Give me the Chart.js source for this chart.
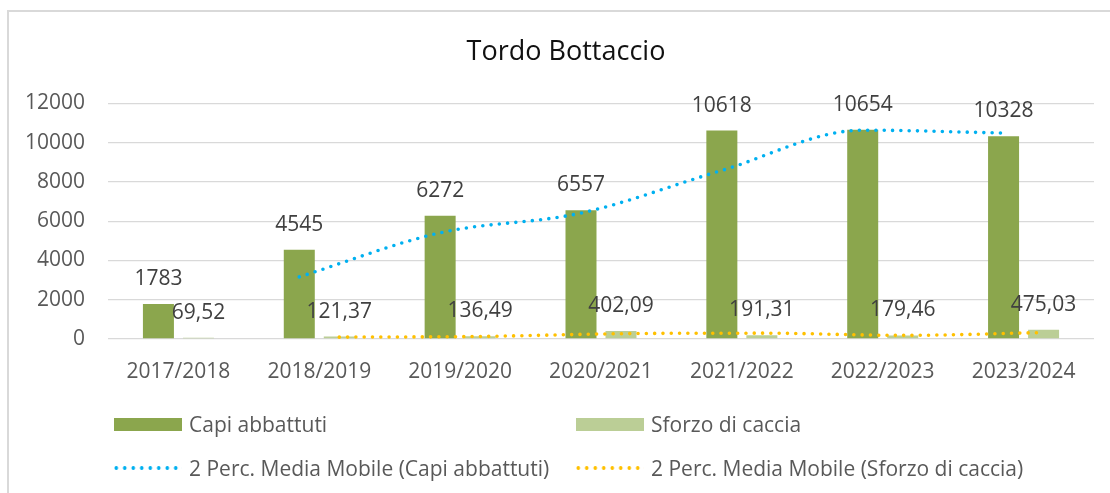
<!DOCTYPE html>
<html>
<head>
<meta charset="utf-8">
<script src="https://cdn.jsdelivr.net/npm/chart.js@4"></script>
<style>
  html, body { margin: 0; padding: 0; background: #fff; overflow: hidden; }
  #wrap { position: relative; width: 1110px; height: 493px; }
  #frame { position: absolute; left: 7px; top: 10px; width: 1200px; height: 600px;
           border-left: 2px solid #d9d9d9; border-top: 2px solid #d9d9d9; }
  #chart { position: absolute; left: 0; top: 0; }
  #legend { position: absolute; left: 114px; top: 410px; display: grid;
            grid-template-columns: 462px auto; row-gap: 16px; }
  .item { display: flex; align-items: center; height: 28px; white-space: nowrap;
          font: 21px "Open Sans"; color: #595959; }
  .swatch { width: 68px; height: 13px; margin-right: 7px; }
  .dots { width: 68px; height: 6px; margin-right: 7px; background-repeat: repeat-x;
          background-size: 8.5px 6px; background-position: -2px 0; }
</style>
</head>
<body>
<div id="wrap">
  <div id="frame"></div>
  <canvas id="chart" width="1110" height="493"></canvas>
  <div id="legend"></div>
</div>
<script>
// chart data
const chartTitle = 'Tordo Bottaccio';
const categories = ['2017/2018', '2018/2019', '2019/2020', '2020/2021', '2021/2022', '2022/2023', '2023/2024'];
const capiAbbattuti = [1783, 4545, 6272, 6557, 10618, 10654, 10328];
const sforzoCaccia = [69.52, 121.37, 136.49, 402.09, 191.31, 179.46, 475.03];
// 2-period moving averages (trendlines), first season has none
const mediaMobileCapi = [null, 3164, 5408.5, 6414.5, 8587.5, 10636, 10491];
const mediaMobileSforzo = [null, 95.45, 128.93, 269.29, 296.7, 185.39, 327.25];
const yTicks = [0, 2000, 4000, 6000, 8000, 10000, 12000];

const FONT = 'Open Sans';
const catPct = 0.568;
const barPct = 0.775;

// trendline points sit on the centre of their own bar inside each group
// (category index +/- a quarter of the group width)
function trendPoints(values, side) {
    const shift = side * catPct / 4;
    return values
        .map((v, i) => (v === null ? null : { x: i + shift, y: v }))
        .filter(p => p !== null);
}

const formatters = [
    v => String(v),
    v => v.toFixed(2).replace('.', ','),
];

// value labels above the bars
const valueLabels = {
    id: 'valueLabels',
    afterDatasetsDraw(chart) {
        const ctx = chart.ctx;
        ctx.save();
        ctx.font = '21px "' + FONT + '"';
        ctx.fillStyle = '#404040';
        ctx.textAlign = 'center';
        ctx.textBaseline = 'middle';
        chart.data.datasets.forEach((ds, di) => {
            if (ds.type !== 'bar') return;
            chart.getDatasetMeta(di).data.forEach((el, i) => {
                ctx.fillText(formatters[di](ds.data[i]), el.x, el.y - 25);
            });
        });
        ctx.restore();
    }
};

// the title is centred on the whole chart frame, which runs past the window
const titleFrame = {
    id: 'titleFrame',
    afterLayout(chart) {
        if (chart.titleBlock) {
            chart.titleBlock.left = 8;
            chart.titleBlock.right = 1124;
        }
    }
};

const trendStyle = {
    type: 'line',
    parsing: false,
    borderWidth: 3.6,
    borderDash: [0, 8.3],
    borderCapStyle: 'round',
    pointRadius: 0,
    cubicInterpolationMode: 'monotone',
    fill: false,
    order: 1,
};

const ctx = document.getElementById('chart').getContext('2d');
const chart = new Chart(ctx, {
    type: 'bar',
    data: {
        labels: categories,
        datasets: [{
            type: 'bar',
            label: 'Capi abbattuti',
            data: capiAbbattuti,
            backgroundColor: '#8ba64d',
            categoryPercentage: catPct,
            barPercentage: barPct,
            order: 2,
        }, {
            type: 'bar',
            label: 'Sforzo di caccia',
            data: sforzoCaccia,
            backgroundColor: '#bbce96',
            categoryPercentage: catPct,
            barPercentage: barPct,
            order: 2,
        }, {
            ...trendStyle,
            label: '2 Perc. Media Mobile (Capi abbattuti)',
            data: trendPoints(mediaMobileCapi, -1),
            borderColor: '#00b0f0',
        }, {
            ...trendStyle,
            label: '2 Perc. Media Mobile (Sforzo di caccia)',
            data: trendPoints(mediaMobileSforzo, 1),
            borderColor: '#ffc000',
        }]
    },
    options: {
        responsive: false,
        animation: false,
        layout: { padding: { left: 0, right: 16, top: 0, bottom: 94 } },
        plugins: {
            legend: { display: false },
            tooltip: { enabled: false },
            title: {
                display: true,
                text: chartTitle,
                color: '#111',
                font: { family: FONT, size: 27, weight: 'normal' },
                padding: { top: 36, bottom: 35 },
            },
        },
        scales: {
            x: {
                type: 'category',
                grid: { display: false },
                border: { display: false },
                ticks: { color: '#595959', font: { family: FONT, size: 21 }, padding: 12, maxRotation: 0 },
                afterFit(scale) { scale.height = 60; },
            },
            y: {
                min: yTicks[0],
                max: yTicks[yTicks.length - 1],
                afterBuildTicks(scale) { scale.ticks = yTicks.map(v => ({ value: v })); },
                grid: { color: '#d9d9d9', lineWidth: 1.3, drawTicks: false },
                border: { display: false },
                ticks: {
                    color: '#595959',
                    font: { family: FONT, size: 21 },
                    padding: 23,
                    callback: v => String(v),
                },
                afterFit(scale) { scale.width = 108; },
            }
        }
    },
    plugins: [valueLabels, titleFrame]
});

// legend in two columns, built from the datasets
const legendEl = document.getElementById('legend');
chart.data.datasets.forEach(ds => {
    const item = document.createElement('div');
    item.className = 'item';
    const mark = document.createElement('span');
    if (ds.type === 'bar') {
        mark.className = 'swatch';
        mark.style.background = ds.backgroundColor;
    } else {
        mark.className = 'dots';
        mark.style.backgroundImage = 'radial-gradient(circle, ' + ds.borderColor + ' 1.6px, transparent 2.1px)';
    }
    const text = document.createElement('span');
    text.textContent = ds.label;
    item.appendChild(mark);
    item.appendChild(text);
    legendEl.appendChild(item);
});
</script>
</body>
</html>
